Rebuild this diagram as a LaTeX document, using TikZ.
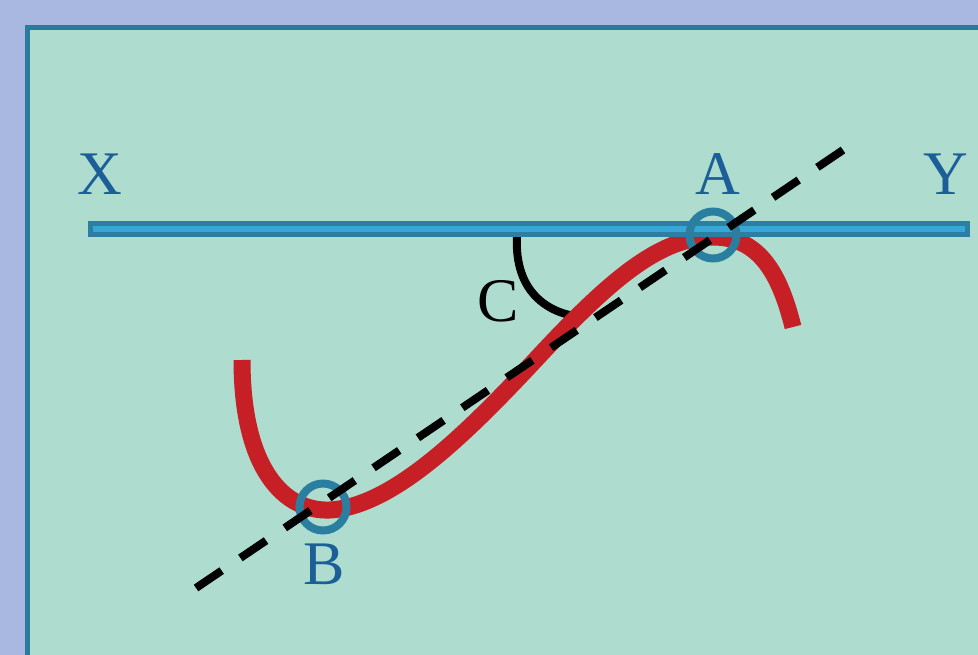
\documentclass[tikz,border=0pt]{standalone}
\usepackage{fontspec}
\setmainfont{Liberation Serif}
\definecolor{bgout}{HTML}{A9B8E0}
\definecolor{panel}{HTML}{AEDCCF}
\definecolor{panelline}{HTML}{2A7B9B}
\definecolor{barline}{HTML}{2C7EA2}
\definecolor{barfill}{HTML}{36A8D7}
\definecolor{ringc}{HTML}{2A7FA0}
\definecolor{labelc}{HTML}{1B5E98}
\definecolor{curvec}{HTML}{C62026}
\tikzset{
  lbl/.style={inner sep=0pt, anchor=base, font=\fontsize{62}{62}\selectfont, text=labelc},
  ring/.style={circle, draw=ringc, line width=8pt, minimum size=47pt, inner sep=0pt},
  redcurve/.style={draw=curvec, line width=17pt},
  anglearc/.style={draw=black, line width=8pt},
  secant/.style={draw=black, line width=8pt, dash pattern=on 31pt off 22.6pt}
}
\begin{document}
\begin{tikzpicture}[x=1pt,y=-1pt]
\useasboundingbox (0,0) rectangle (978,655);
\fill[bgout] (0,0) rectangle (978,655);
\draw[panelline, fill=panel, line width=5pt] (27.5,27.5) rectangle (1000,680);
% angle arc C
\draw[anglearc] (517,236) .. controls (514,292) and (548,314) .. (582,317);
% red curve
\draw[redcurve] (242,360) .. controls (242,470) and (285,512) .. (330,510)
  .. controls (395,506) and (470,430) .. (540,355)
  .. controls (610,280) and (660,237) .. (713,237)
  .. controls (760,237) and (780,275) .. (793,327);
% bar
\draw[barline, fill=barfill, line width=5pt] (90.5,223.5) rectangle (967.5,234.5);
% labels
\node[lbl] (X) at (100,195) {X};
\node[lbl] (Y) at (946,195) {Y};
\node[lbl] (A) at (718,195) {A};
\node[lbl] (B) at (324,584) {B};
\node[lbl, text=black] (C) at (498,321) {C};
% rings
\node[ring] (rA) at (713,235) {};
\node[ring] (rB) at (323,507) {};
% secant
\coordinate (s1) at (196,588);
\coordinate (s2) at (843,150);
\draw[secant] (s1) -- (s2);
\end{tikzpicture}
\end{document}
